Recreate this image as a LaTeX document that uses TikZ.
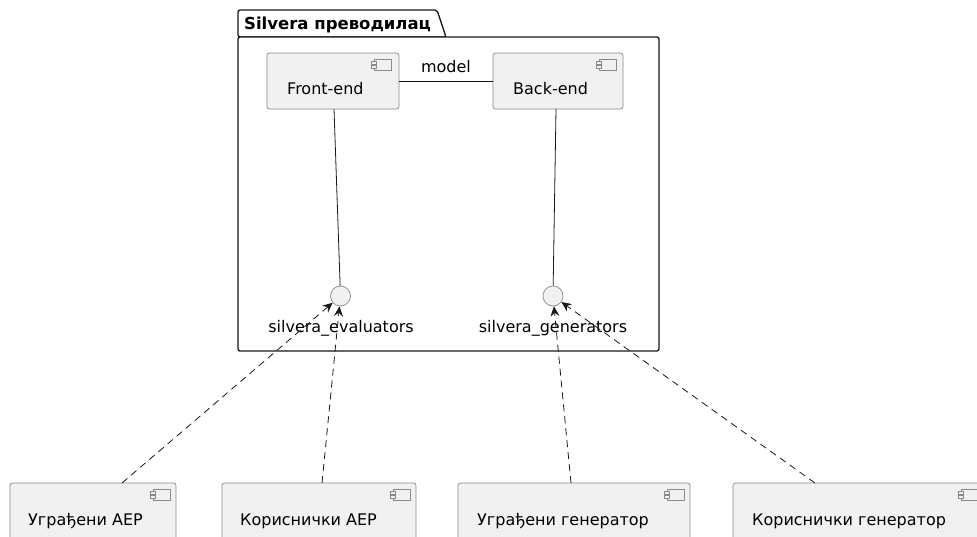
\documentclass[tikz,border=0pt]{standalone}
\usepackage{fontspec}
\setmainfont{DejaVu Sans}
\usetikzlibrary{arrows.meta}
\definecolor{boxfill}{HTML}{F1F1F1}
\definecolor{boxline}{HTML}{8A8A8A}
\definecolor{darkline}{HTML}{181818}
\tikzset{
  comp/.style={draw=boxline, fill=boxfill, line width=0.7pt, rounded corners=2.5pt},
  iface/.style={circle, draw=boxline, fill=boxfill, line width=0.7pt, minimum size=20pt, inner sep=0pt},
  lbl/.style={font=\fontsize{16}{19}\selectfont, text=black, inner sep=0pt},
  solidlink/.style={draw=darkline, line width=0.8pt},
  uselink/.style={draw=darkline, line width=0.8pt, dash pattern=on 7pt off 5pt, -{Stealth[length=10pt,width=9pt,inset=3.5pt]}},
  pkg/.style={draw=darkline, fill=white, line width=1.3pt, rounded corners=2pt}
}
% component glyph in the top-right corner of a box
\newcommand{\compglyph}[2]{%
  \draw[boxline, line width=0.7pt, fill=boxfill] (#1,#2) rectangle ++(17,11);
  \draw[boxline, line width=0.5pt, fill=boxfill] (#1-2.5,#2+2.2) rectangle ++(5,2.6);
  \draw[boxline, line width=0.5pt, fill=boxfill] (#1-2.5,#2+6.2) rectangle ++(5,2.6);
}
\begin{document}
\begin{tikzpicture}[x=1pt, y=-1pt]
\clip (0,0) rectangle (977,536);
\fill[white] (0,0) rectangle (977,536);

% package frame with its tab
\draw[pkg] (238,37) -- (238,10) -- (437,10) -- (446,37) -- cycle;
\draw[pkg] (238,37) rectangle (659,351);
\node[lbl, font=\fontsize{16.5}{19}\selectfont\bfseries, anchor=base west] (pkgname) at (244,29) {Silvera преводилац};

% components inside the package
\draw[comp] (267,53) rectangle (399,109);
\node[lbl, anchor=base west] (front) at (287,94) {Front-end};
\coordinate (frontR) at (399,81);
\coordinate (frontB) at (334,109);
\compglyph{374}{59}

\draw[comp] (493,53) rectangle (623,109);
\node[lbl, anchor=base west] (back) at (513,94) {Back-end};
\coordinate (backL) at (493,81);
\coordinate (backB) at (556,109);
\compglyph{599}{59}

\draw[solidlink] (frontR) -- (backL);
\node[lbl, anchor=base] (model) at (446,72) {model};

% provided interfaces
\node[iface] (eval) at (340.5,296) {};
\node[lbl, anchor=base] (evallbl) at (341,332) {silvera\_evaluators};
\node[iface] (gen) at (553,296) {};
\node[lbl, anchor=base] (genlbl) at (553,332) {silvera\_generators};

\draw[solidlink] (frontB) -- (eval);
\draw[solidlink] (backB) -- (gen);

% implementations below the package
\draw[comp] (10,483) rectangle (176,560);
\node[lbl, anchor=base west] (b1) at (28,525) {Уграђени АЕР};
\compglyph{153}{489}
\coordinate (b1top) at (122,483);

\draw[comp] (222,483) rectangle (416,560);
\node[lbl, anchor=base west] (b2) at (240,525) {Кориснички АЕР};
\compglyph{393}{489}
\coordinate (b2top) at (322,483);

\draw[comp] (458,483) rectangle (690,560);
\node[lbl, anchor=base west] (b3) at (477,525) {Уграђени генератор};
\compglyph{667}{489}
\coordinate (b3top) at (571,483);

\draw[comp] (733,483) rectangle (1000,560);
\node[lbl, anchor=base west] (b4) at (752,525) {Кориснички генератор};
\compglyph{961}{489}
\coordinate (b4top) at (815,483);

% usage links
\draw[uselink] (b1top) -- (eval);
\draw[uselink] (b2top) -- (eval);
\draw[uselink] (b3top) -- (gen);
\draw[uselink] (b4top) -- (gen);
\end{tikzpicture}
\end{document}
